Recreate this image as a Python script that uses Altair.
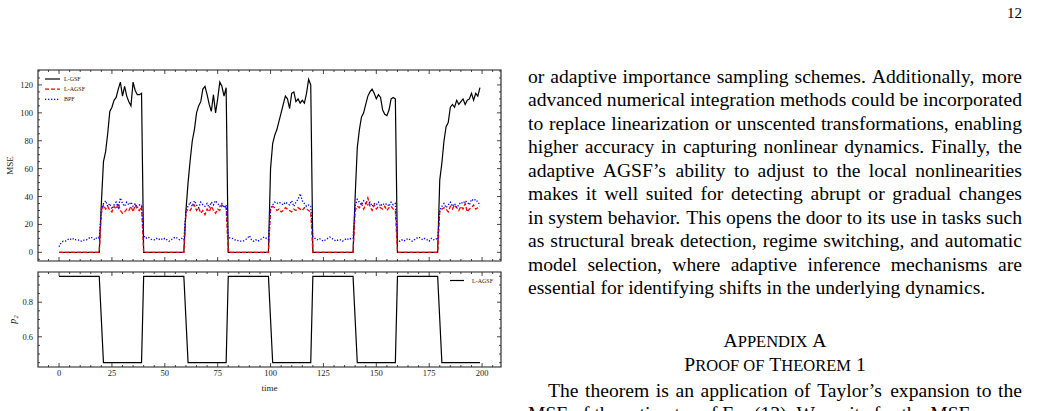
import altair as alt
import pandas as pd

# ---------------- data ----------------
TIME = list(range(200))

L_GSF = [
    0, 0, 0, 0, 0, 0, 0, 0, 0, 0, 0, 0, 0, 0, 0, 0, 0, 0, 0, 0,
    35, 65, 72, 85, 101, 104, 109, 111, 117, 122, 112, 119, 112, 108, 105, 122, 116, 113, 113, 114,
    0, 0, 0, 0, 0, 0, 0, 0, 0, 0, 0, 0, 0, 0, 0, 0, 0, 0, 0, 0,
    30, 50, 66, 80, 88, 100, 105, 108, 117, 119, 113, 106, 101, 113, 100, 110, 122, 119, 112, 118,
    0, 0, 0, 0, 0, 0, 0, 0, 0, 0, 0, 0, 0, 0, 0, 0, 0, 0, 0, 0,
    60, 78, 84, 88, 94, 100, 106, 112, 110, 103, 114, 115, 108, 110, 107, 109, 107, 114, 124, 120,
    0, 0, 0, 0, 0, 0, 0, 0, 0, 0, 0, 0, 0, 0, 0, 0, 0, 0, 0, 0,
    40, 75, 88, 97, 100, 106, 112, 115, 117, 114, 110, 113, 111, 102, 99, 98, 102, 110, 111, 110,
    0, 0, 0, 0, 0, 0, 0, 0, 0, 0, 0, 0, 0, 0, 0, 0, 0, 0, 0, 0,
    52, 64, 80, 90, 93, 104, 106, 104, 109, 106, 108, 110, 106, 109, 110, 114, 109, 114, 112, 118,
]

L_AGSF = [
    0, 0, 0, 0, 0, 0, 0, 0, 0, 0, 0, 0, 0, 0, 0, 0, 0, 0, 0, 0,
    28, 34, 31, 33, 30, 29, 33, 31, 35, 30, 28, 29, 31, 30, 33, 29, 34, 31, 30, 33,
    0, 0, 0, 0, 0, 0, 0, 0, 0, 0, 0, 0, 0, 0, 0, 0, 0, 0, 0, 0,
    29, 31, 30, 33, 34, 30, 32, 28, 30, 27, 31, 29, 33, 30, 28, 31, 30, 34, 33, 32,
    0, 0, 0, 0, 0, 0, 0, 0, 0, 0, 0, 0, 0, 0, 0, 0, 0, 0, 0, 0,
    31, 33, 32, 30, 31, 29, 30, 32, 31, 30, 29, 31, 30, 32, 31, 30, 32, 31, 30, 29,
    0, 0, 0, 0, 0, 0, 0, 0, 0, 0, 0, 0, 0, 0, 0, 0, 0, 0, 0, 0,
    30, 33, 32, 35, 31, 34, 39, 33, 30, 34, 31, 33, 32, 31, 33, 30, 32, 33, 31, 30,
    0, 0, 0, 0, 0, 0, 0, 0, 0, 0, 0, 0, 0, 0, 0, 0, 0, 0, 0, 0,
    30, 31, 32, 31, 29, 33, 31, 34, 32, 30, 33, 31, 35, 29, 31, 32, 34, 31, 32, 33,
]

BPF = [
    4, 7, 8, 8, 9, 10, 9, 10, 9, 9, 8, 8, 9, 9, 10, 11, 10, 9, 11, 10,
    30, 35, 37, 33, 35, 31, 34, 36, 32, 39, 35, 33, 36, 34, 36, 33, 35, 32, 34, 33,
    12, 10, 11, 10, 9, 9, 10, 9, 10, 9, 10, 9, 8, 9, 10, 11, 10, 9, 10, 9,
    30, 33, 36, 33, 37, 34, 32, 36, 34, 33, 35, 32, 36, 34, 37, 35, 33, 35, 32, 34,
    11, 10, 10, 9, 9, 8, 8, 8, 9, 10, 12, 9, 8, 9, 8, 9, 10, 11, 10, 9,
    31, 34, 36, 35, 36, 35, 34, 36, 35, 34, 37, 33, 36, 38, 42, 37, 35, 33, 34, 33,
    11, 10, 9, 10, 9, 8, 9, 10, 11, 10, 9, 8, 9, 9, 8, 9, 10, 9, 10, 10,
    33, 38, 36, 34, 37, 35, 34, 36, 33, 35, 34, 36, 33, 35, 34, 35, 33, 36, 34, 35,
    9, 8, 9, 8, 9, 10, 9, 8, 9, 10, 11, 10, 9, 10, 9, 8, 10, 9, 10, 9,
    30, 33, 35, 32, 34, 36, 33, 35, 32, 34, 36, 35, 37, 36, 34, 38, 37, 38, 36, 34,
]

P2_L_AGSF = [
    0.95, 0.95, 0.95, 0.95, 0.95, 0.95, 0.95, 0.95, 0.95, 0.95, 0.95, 0.95, 0.95, 0.95, 0.95, 0.95, 0.95, 0.95, 0.95, 0.95,
    0.70, 0.45, 0.45, 0.45, 0.45, 0.45, 0.45, 0.45, 0.45, 0.45, 0.45, 0.45, 0.45, 0.45, 0.45, 0.45, 0.45, 0.45, 0.45, 0.45,
    0.95, 0.95, 0.95, 0.95, 0.95, 0.95, 0.95, 0.95, 0.95, 0.95, 0.95, 0.95, 0.95, 0.95, 0.95, 0.95, 0.95, 0.95, 0.95, 0.95,
    0.70, 0.45, 0.45, 0.45, 0.45, 0.45, 0.45, 0.45, 0.45, 0.45, 0.45, 0.45, 0.45, 0.45, 0.45, 0.45, 0.45, 0.45, 0.45, 0.45,
    0.95, 0.95, 0.95, 0.95, 0.95, 0.95, 0.95, 0.95, 0.95, 0.95, 0.95, 0.95, 0.95, 0.95, 0.95, 0.95, 0.95, 0.95, 0.95, 0.95,
    0.70, 0.45, 0.45, 0.45, 0.45, 0.45, 0.45, 0.45, 0.45, 0.45, 0.45, 0.45, 0.45, 0.45, 0.45, 0.45, 0.45, 0.45, 0.45, 0.45,
    0.95, 0.95, 0.95, 0.95, 0.95, 0.95, 0.95, 0.95, 0.95, 0.95, 0.95, 0.95, 0.95, 0.95, 0.95, 0.95, 0.95, 0.95, 0.95, 0.95,
    0.70, 0.45, 0.45, 0.45, 0.45, 0.45, 0.45, 0.45, 0.45, 0.45, 0.45, 0.45, 0.45, 0.45, 0.45, 0.45, 0.45, 0.45, 0.45, 0.45,
    0.95, 0.95, 0.95, 0.95, 0.95, 0.95, 0.95, 0.95, 0.95, 0.95, 0.95, 0.95, 0.95, 0.95, 0.95, 0.95, 0.95, 0.95, 0.95, 0.95,
    0.70, 0.45, 0.45, 0.45, 0.45, 0.45, 0.45, 0.45, 0.45, 0.45, 0.45, 0.45, 0.45, 0.45, 0.45, 0.45, 0.45, 0.45, 0.45, 0.45,
]

X_TICKS = [0, 25, 50, 75, 100, 125, 150, 175, 200]
X_TICK_LABELS = ["0", "25", "50", "75", "100", "125", "150", "175", "200"]
X_MINOR = [v for v in range(-5, 210, 5) if v % 25 != 0]

MSE_TICKS = [0, 20, 40, 60, 80, 100, 120]
MSE_TICK_LABELS = ["0", "20", "40", "60", "80", "100", "120"]
MSE_MINOR = [v for v in range(-5, 131, 5) if v % 20 != 0]

P2_TICKS = [0.6, 0.8]
P2_TICK_LABELS = ["0.6", "0.8"]
P2_MINOR = [0.45, 0.5, 0.55, 0.65, 0.7, 0.75, 0.85, 0.9, 0.95]

LEGEND_TOP = ["L-GSF", "L-AGSF", "BPF"]
LEGEND_BOTTOM = ["L-AGSF"]

PAGE_NUMBER = "12"
PARAGRAPH_1 = [
    "or adaptive importance sampling schemes. Additionally, more",
    "advanced numerical integration methods could be incorporated",
    "to replace linearization or unscented transformations, enabling",
    "higher accuracy in capturing nonlinear dynamics. Finally, the",
    "adaptive AGSF\u2019s ability to adjust to the local nonlinearities",
    "makes it well suited for detecting abrupt or gradual changes",
    "in system behavior. This opens the door to its use in tasks such",
    "as structural break detection, regime switching, and automatic",
    "model selection, where adaptive inference mechanisms are",
    "essential for identifying shifts in the underlying dynamics.",
]
HEADING_1 = [("A", "big"), ("PPENDIX", "small"), (" A", "big")]
HEADING_2 = [("P", "big"), ("ROOF OF", "small"), (" ", "big"), ("T", "big"),
             ("HEOREM", "small"), (" 1", "big")]
PARAGRAPH_2 = [
    "The theorem is an application of Taylor\u2019s expansion to the",
    "MSE of the estimator of Eq. (13). We write for the MSE",
]

# ---------------- layout ----------------
OX, OY = 38, 70            # page position of the plot area origin
W, H = 463, 297            # both panels together
TOP_H = 191                # upper panel height
BOT_Y0 = 202               # lower panel top
FONT = "Liberation Serif"
INK = "#1a1a1a"

xs = alt.Scale(domain=[-9.95, 208.95], nice=False, zero=False)
ys_top = alt.Scale(domain=[-6.2, 130.7], range=[TOP_H, 0], nice=False, zero=False)
ys_bot = alt.Scale(domain=[0.425, 0.975], range=[H, BOT_Y0], nice=False, zero=False)

one = pd.DataFrame({"a": [0]})

def series(vals, scale, **mk):
    df = pd.DataFrame({"t": TIME, "v": vals})
    return alt.Chart(df).mark_line(**mk).encode(
        x=alt.X("t:Q", scale=xs, axis=None),
        y=alt.Y("v:Q", scale=scale, axis=None),
    )

layers = []
layers.append(series(L_GSF, ys_top, color="#000000", strokeWidth=1.2))
layers.append(series(L_AGSF, ys_top, color="#ff0000", strokeWidth=1.3, strokeDash=[4, 2]))
layers.append(series(BPF, ys_top, color="#0000ff", strokeWidth=1.3, strokeDash=[1.3, 1.7]))
layers.append(series(P2_L_AGSF, ys_bot, color="#000000", strokeWidth=1.2))

# frames
for y0, y1 in [(0, TOP_H), (BOT_Y0, H)]:
    layers.append(alt.Chart(one).mark_rect(fillOpacity=0, stroke=INK, strokeWidth=1.1).encode(
        x=alt.value(0), x2=alt.value(W), y=alt.value(y0), y2=alt.value(y1)))

# inward ticks
def xticks(vals, y0, length):
    df = pd.DataFrame({"v": vals})
    return alt.Chart(df).mark_rule(color=INK, strokeWidth=0.8).encode(
        x=alt.X("v:Q", scale=xs, axis=None), y=alt.value(y0), y2=alt.value(y0 + length))

def yticks(vals, scale, x0, length):
    df = pd.DataFrame({"v": vals})
    return alt.Chart(df).mark_rule(color=INK, strokeWidth=0.8).encode(
        y=alt.Y("v:Q", scale=scale, axis=None), x=alt.value(x0), x2=alt.value(x0 + length))

for y0, sign in [(0, 1), (TOP_H, -1), (BOT_Y0, 1), (H, -1)]:
    layers.append(xticks(X_TICKS, y0, 4 * sign))
    layers.append(xticks(X_MINOR, y0, 2 * sign))
for scale, major, minor in [(ys_top, MSE_TICKS, MSE_MINOR), (ys_bot, P2_TICKS, P2_MINOR)]:
    layers.append(yticks(major, scale, 0, 4))
    layers.append(yticks(minor, scale, 0, 2))
    layers.append(yticks(major, scale, W, -4))
    layers.append(yticks(minor, scale, W, -2))

# tick labels
def ylabels(vals, labs, scale):
    df = pd.DataFrame({"v": vals, "lab": labs})
    return alt.Chart(df).mark_text(align="right", baseline="middle", font=FONT,
                                   fontSize=8.5, color=INK).encode(
        y=alt.Y("v:Q", scale=scale, axis=None), x=alt.value(-5), text="lab:N")

layers.append(ylabels(MSE_TICKS, MSE_TICK_LABELS, ys_top))
layers.append(ylabels(P2_TICKS, P2_TICK_LABELS, ys_bot))
layers.append(alt.Chart(pd.DataFrame({"v": X_TICKS, "lab": X_TICK_LABELS})).mark_text(
    align="center", baseline="middle", font=FONT, fontSize=8.5, color=INK).encode(
    x=alt.X("v:Q", scale=xs, axis=None), y=alt.value(H + 6), text="lab:N"))

# axis titles
layers.append(alt.Chart(one).mark_text(angle=270, font=FONT, fontSize=9, color=INK,
                                       align="center", baseline="middle").encode(
    x=alt.value(-28), y=alt.value(TOP_H / 2), text=alt.value("MSE")))
layers.append(alt.Chart(one).mark_text(angle=270, font=FONT, fontSize=10, fontStyle="italic",
                                       color=INK, align="center", baseline="middle").encode(
    x=alt.value(-25), y=alt.value((BOT_Y0 + H) / 2), text=alt.value("p\u2082")))
layers.append(alt.Chart(one).mark_text(font=FONT, fontSize=9, color=INK,
                                       align="center", baseline="middle").encode(
    x=alt.value(W / 2), y=alt.value(H + 21), text=alt.value("time")))

# legends
leg_styles = [dict(color="#000000", strokeWidth=1.2),
              dict(color="#ff0000", strokeWidth=1.3, strokeDash=[4, 2]),
              dict(color="#0000ff", strokeWidth=1.3, strokeDash=[1.3, 1.7])]
for i, (name, st) in enumerate(zip(LEGEND_TOP, leg_styles)):
    yy = 9 + 10.2 * i
    layers.append(alt.Chart(one).mark_rule(**st).encode(
        x=alt.value(7), x2=alt.value(22), y=alt.value(yy)))
    layers.append(alt.Chart(one).mark_text(align="left", baseline="middle", font=FONT,
                                           fontSize=6, color=INK).encode(
        x=alt.value(26), y=alt.value(yy), text=alt.value(name)))
layers.append(alt.Chart(one).mark_rule(color="#000000", strokeWidth=1.2).encode(
    x=alt.value(412), x2=alt.value(426), y=alt.value(BOT_Y0 + 8.5)))
layers.append(alt.Chart(one).mark_text(align="left", baseline="middle", font=FONT,
                                       fontSize=6, color=INK).encode(
    x=alt.value(434), y=alt.value(BOT_Y0 + 8.5), text=alt.value(LEGEND_BOTTOM[0])))

# ---------------- page text (Times metrics for justification) ----------------
CW = {' ': 250, '.': 250, ',': 250, '\u2019': 333, "'": 333, '(': 333, ')': 333, '-': 333,
      '0': 500, '1': 500, '2': 500, '3': 500, '4': 500, '5': 500, '6': 500, '7': 500,
      '8': 500, '9': 500,
      'A': 722, 'B': 667, 'C': 667, 'D': 722, 'E': 611, 'F': 556, 'G': 722, 'H': 722,
      'I': 333, 'J': 389, 'K': 722, 'L': 611, 'M': 889, 'N': 722, 'O': 722, 'P': 556,
      'Q': 722, 'R': 667, 'S': 556, 'T': 611, 'U': 722, 'V': 722, 'W': 944, 'X': 722,
      'Y': 722, 'Z': 611,
      'a': 444, 'b': 500, 'c': 444, 'd': 500, 'e': 444, 'f': 333, 'g': 500, 'h': 500,
      'i': 278, 'j': 278, 'k': 500, 'l': 278, 'm': 778, 'n': 500, 'o': 500, 'p': 500,
      'q': 500, 'r': 333, 's': 389, 't': 278, 'u': 500, 'v': 500, 'w': 722, 'x': 500,
      'y': 500, 'z': 444}

F = 19.6
SC = 16.5
COL_L, COL_R = 528, 1022
PITCH = 23.5

def tw(s, size):
    return sum(CW.get(c, 500) for c in s) * size / 1000.0

word_rows = []

def put_line(line, base, justify, indent=0.0):
    words = line.split(" ")
    widths = [tw(w, F) for w in words]
    left = COL_L + indent
    if justify and len(words) > 1:
        gap = (COL_R - left - sum(widths)) / (len(words) - 1)
    else:
        gap = tw(" ", F)
    x = left
    for w, wd in zip(words, widths):
        word_rows.append({"w": w, "x": x - OX, "y": base - OY})
        x += wd + gap

first_base = 82.5
for i, line in enumerate(PARAGRAPH_1):
    put_line(line, first_base + PITCH * i, justify=(i < len(PARAGRAPH_1) - 1))
put_line(PARAGRAPH_2[0], 396.5, True, indent=20)
put_line(PARAGRAPH_2[1], 420.0, False)

big_rows, small_rows = [], []
center = (COL_L + COL_R) / 2
for pieces, base in [(HEADING_1, 347.0), (HEADING_2, 371.0)]:
    total = sum(tw(t, F if k == "big" else SC) for t, k in pieces)
    x = center - total / 2
    for t, k in pieces:
        size = F if k == "big" else SC
        if t.strip():
            (big_rows if k == "big" else small_rows).append(
                {"w": t.strip(), "x": x + (tw(t, size) - tw(t.strip(), size)) - OX, "y": base - OY})
        x += tw(t, size)

def page_text(rows, size):
    return alt.Chart(pd.DataFrame(rows)).mark_text(
        align="left", baseline="alphabetic", font=FONT, fontSize=size, color="#000000").encode(
        x=alt.X("x:Q", scale=None, axis=None), y=alt.Y("y:Q", scale=None, axis=None), text="w:N")

layers.append(page_text(word_rows, F))
layers.append(page_text(big_rows, F))
layers.append(page_text(small_rows, SC))
layers.append(alt.Chart(one).mark_text(align="right", baseline="alphabetic", font=FONT,
                                       fontSize=15, color="#000000").encode(
    x=alt.value(COL_R - OX), y=alt.value(18 - OY), text=alt.value(PAGE_NUMBER)))

chart = alt.layer(*layers).resolve_scale(y="independent").properties(
    width=W, height=H,
    padding={"left": OX, "top": OY, "right": 1037 - OX - W, "bottom": 411 - OY - H},
    autosize=alt.AutoSizeParams(type="none"),
    background="white",
).configure_view(stroke=None)

chart.save("out.html", embed_options={"renderer": "svg", "actions": False})
